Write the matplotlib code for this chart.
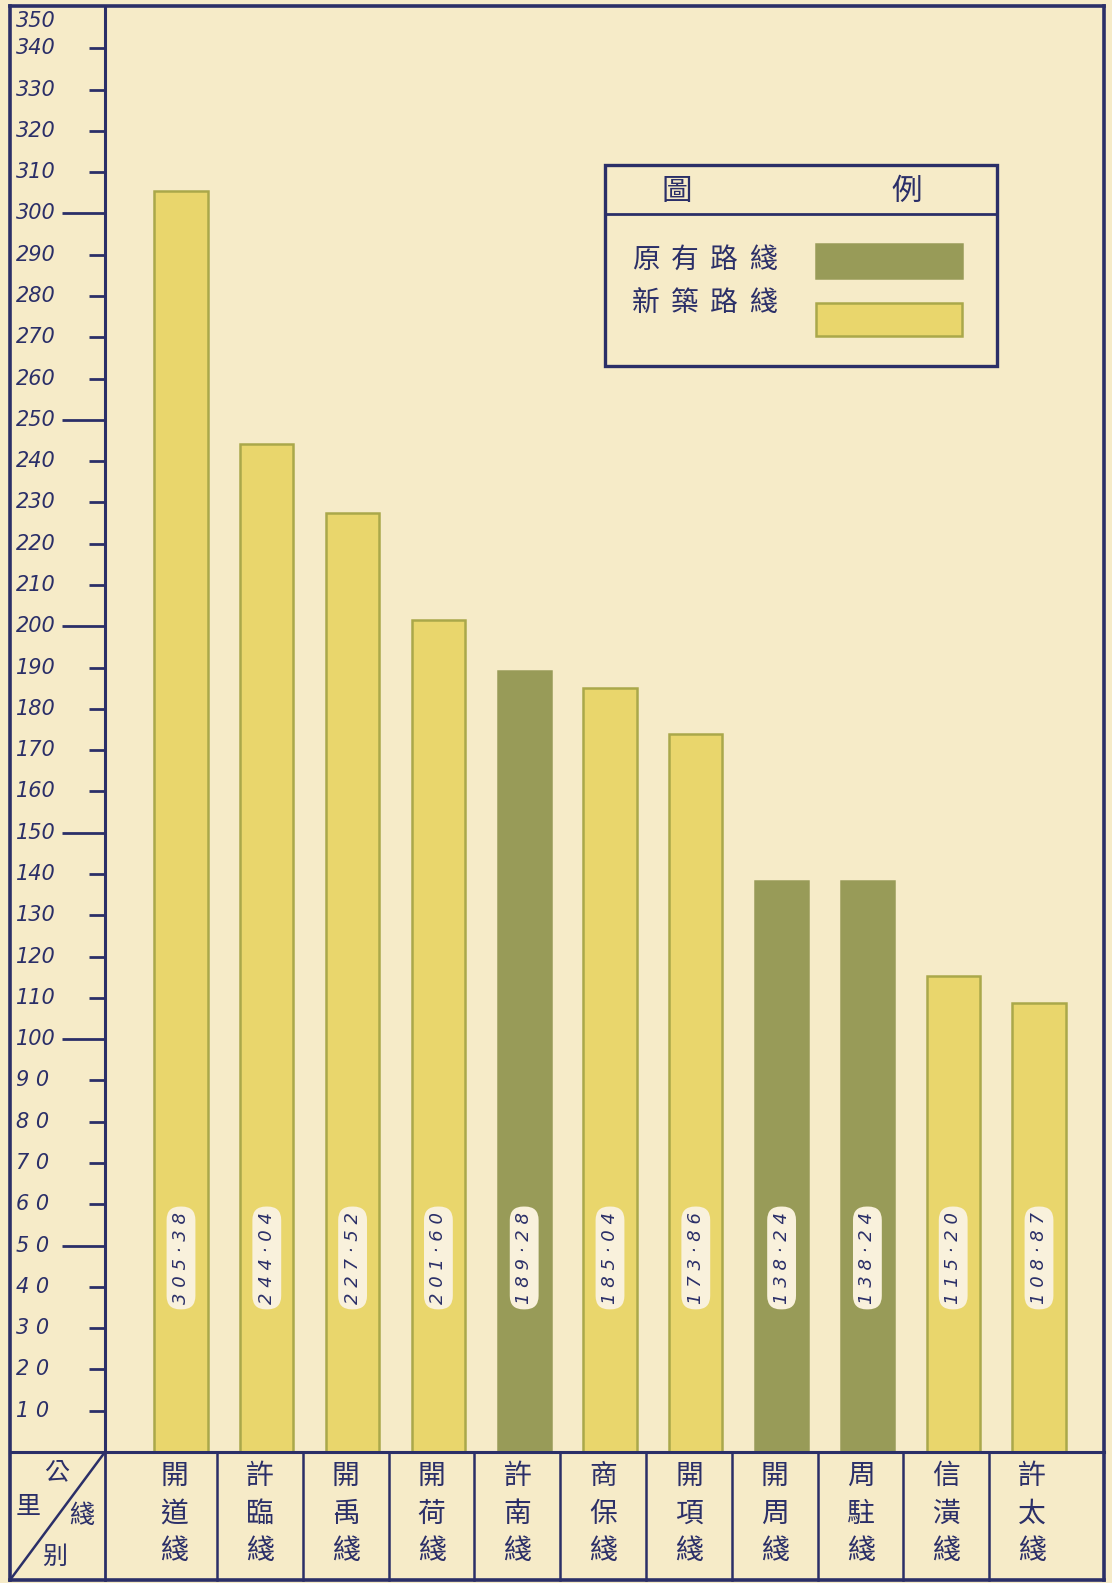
import matplotlib
matplotlib.use('Agg')
import matplotlib.pyplot as plt
import matplotlib.transforms as mtransforms
from matplotlib.patches import Rectangle

# ---------------- data ----------------
categories = ['開道綫', '許臨綫', '開禹綫', '開荷綫', '許南綫', '商保綫',
              '開項綫', '開周綫', '周駐綫', '信潢綫', '許太綫']
lengths_km = [305.38, 244.04, 227.52, 201.60, 189.28, 185.04,
              173.86, 138.24, 138.24, 115.20, 108.87]
line_kind = ['new', 'new', 'new', 'new', 'old', 'new',
             'new', 'old', 'old', 'new', 'new']
ytick_values = list(range(10, 360, 10))
legend_labels = {'old': '原有路綫', 'new': '新築路綫'}
legend_title = ['圖', '例']
corner_labels = ['公', '里', '綫', '别']

# ---------------- style ----------------
W, H = 1112, 1583
BG = '#f6ebc8'
NAVY = '#2b2f68'
YELLOW = '#e9d66c'
YELLOW_EDGE = '#aaa84a'
OLIVE = '#989b58'
PILL = '#f9f1dc'
CJK = ['Noto Sans CJK TC', 'DejaVu Sans']

fig = plt.figure(figsize=(W / 100, H / 100), dpi=100, facecolor=BG)


def fx(px):
    return px / W


def fy(py):
    return 1 - py / H


AX_L, AX_R, AX_T, AX_B = 105, 1104, 7, 1452
ax = fig.add_axes([fx(AX_L), fy(AX_B), fx(AX_R) - fx(AX_L), fy(AX_T) - fy(AX_B)])
ax.set_facecolor('none')
step = 85.8
ax.set_xlim(-(181 - AX_L) / step, 10 + (AX_R - 1039) / step)
ax.set_ylim(0, 350)

xs = list(range(len(categories)))
colors = [OLIVE if k == 'old' else YELLOW for k in line_kind]
edges = [OLIVE if k == 'old' else YELLOW_EDGE for k in line_kind]
ax.bar(xs, lengths_km, width=0.62, color=colors, edgecolor=edges, linewidth=1.8, zorder=2)

# value pills
for x, v in zip(xs, lengths_km):
    s = ' '.join(f'{v:.2f}'.replace('.', '·'))
    ax.text(x, 47, s, rotation=90, ha='center', va='center', fontsize=13,
            style='italic', color=NAVY, zorder=3,
            bbox=dict(boxstyle='round,pad=0.3,rounding_size=0.75', fc=PILL, ec='none'))

# spines / ticks
for sp in ['top', 'right', 'bottom']:
    ax.spines[sp].set_visible(False)
ax.spines['left'].set_color(NAVY)
ax.spines['left'].set_linewidth(2.2)
ax.set_xticks([])
tick_vals = [v for v in ytick_values if v < 350]
ax.set_yticks(tick_vals)
ax.set_yticklabels([])
ax.tick_params(axis='y', direction='out', length=11.5, width=2, color=NAVY)
for t, v in zip(ax.yaxis.get_major_ticks(), tick_vals):
    if v % 50 == 0:
        t.tick1line.set_markersize(31)

lab_tr = mtransforms.blended_transform_factory(fig.transFigure, ax.transData)
for v in ytick_values:
    s = str(v) if v >= 100 else f'{v // 10} 0'
    if v == 350:
        tr = mtransforms.offset_copy(lab_tr, fig=fig, y=-4, units='dots')
        ax.text(fx(16), v, s, transform=tr, ha='left', va='top', fontsize=15,
                style='italic', color=NAVY, clip_on=False)
    else:
        ax.text(fx(16), v, s, transform=lab_tr, ha='left', va='center', fontsize=15,
                style='italic', color=NAVY, clip_on=False)

# ---------------- frame & table ----------------
def fig_line(x0, y0, x1, y1, lw=2.2):
    fig.add_artist(plt.Line2D([fx(x0), fx(x1)], [fy(y0), fy(y1)], transform=fig.transFigure,
                              color=NAVY, lw=lw, solid_capstyle='projecting'))


TOP, BOT, LEFT, RIGHT = 6, 1580, 10, 1104
fig_line(LEFT, TOP, RIGHT, TOP, 2.6)
fig_line(LEFT, BOT, RIGHT, BOT, 2.6)
fig_line(LEFT, TOP, LEFT, BOT, 2.6)
fig_line(RIGHT, TOP, RIGHT, BOT, 2.6)
fig_line(LEFT, AX_B, RIGHT, AX_B, 2.2)
fig_line(LEFT, BOT, AX_L, AX_B, 1.8)
fig_line(AX_L, AX_B, AX_L, BOT, 2.0)

tab_tr = mtransforms.blended_transform_factory(ax.transData, fig.transFigure)
for i in xs[:-1]:
    ax.plot([i + 0.42, i + 0.42], [fy(AX_B), fy(BOT)], transform=tab_tr, color=NAVY,
            lw=1.8, clip_on=False)
for i, cat in enumerate(categories):
    for j, ch in enumerate(cat):
        ax.text(i - 0.08, fy(1476 + 37.5 * j), ch, transform=tab_tr, ha='center',
                va='center', fontsize=20, family=CJK, color=NAVY, clip_on=False)

corner_pos = [(57, 1472), (28, 1507), (82, 1516), (55, 1557)]
for ch, (px, py) in zip(corner_labels, corner_pos):
    fig.text(fx(px), fy(py), ch, ha='center', va='center', fontsize=18, family=CJK, color=NAVY)

# ---------------- legend ----------------
LX0, LX1, LY0, LY1 = 605, 997, 165, 366
fig.add_artist(Rectangle((fx(LX0), fy(LY1)), fx(LX1) - fx(LX0), fy(LY0) - fy(LY1),
                         transform=fig.transFigure, fill=False, ec=NAVY, lw=2.4))
fig_line(LX0, 214, LX1, 214, 2.0)
fig.text(fx(677), fy(191), legend_title[0], ha='center', va='center', fontsize=22,
         family=CJK, color=NAVY)
fig.text(fx(907), fy(191), legend_title[1], ha='center', va='center', fontsize=22,
         family=CJK, color=NAVY)
for key, ty, (sy0, sy1), fc, ec in [('old', 260, (244, 278), OLIVE, OLIVE),
                                     ('new', 303, (303, 336), YELLOW, YELLOW_EDGE)]:
    for j, ch in enumerate(legend_labels[key]):
        fig.text(fx(646 + 39 * j), fy(ty), ch, ha='center', va='center', fontsize=20,
                 family=CJK, color=NAVY)
    fig.add_artist(Rectangle((fx(816), fy(sy1)), fx(962) - fx(816), fy(sy0) - fy(sy1),
                             transform=fig.transFigure, fc=fc, ec=ec, lw=1.8))

fig.savefig('out.png', dpi=100, facecolor=BG)
